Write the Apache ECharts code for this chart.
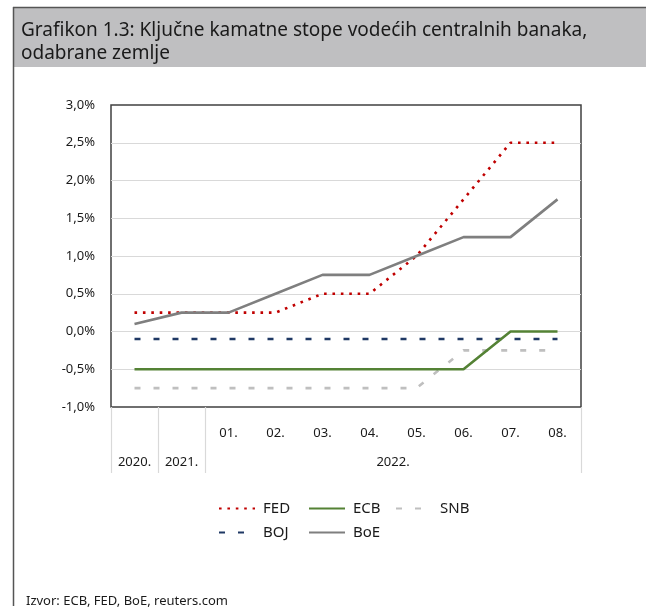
<!DOCTYPE html>
<html>
<head>
<meta charset="utf-8">
<script src="https://cdn.jsdelivr.net/npm/echarts@6/dist/echarts.min.js"></script>
<style>
  html, body { margin: 0; padding: 0; background: #fff; }
  #chart { width: 646px; height: 610px; }
</style>
</head>
<body>
<div id="chart"></div>
<script>
// categories
var months = ['', '', '01.', '02.', '03.', '04.', '05.', '06.', '07.', '08.'];
var yearLabels = { 0.5: '2020.', 1.5: '2021.', 6: '2022.' };

// key policy rates, %
var fed = [0.25, 0.25, 0.25, 0.25, 0.5, 0.5, 1.0, 1.75, 2.5, 2.5];
var ecb = [-0.5, -0.5, -0.5, -0.5, -0.5, -0.5, -0.5, -0.5, 0, 0];
var snb = [-0.75, -0.75, -0.75, -0.75, -0.75, -0.75, -0.75, -0.25, -0.25, -0.25];
var boj = [-0.1, -0.1, -0.1, -0.1, -0.1, -0.1, -0.1, -0.1, -0.1, -0.1];
var boe = [0.1, 0.25, 0.25, 0.5, 0.75, 0.75, 1.0, 1.25, 1.25, 1.75];

var font = 'Noto Sans';

var chart = echarts.init(document.getElementById('chart'));

function legendAt(name, left, top) {
    return {
        data: [name], left: left, top: top,
        itemWidth: 36, itemHeight: 14, padding: 0,
        itemStyle: { opacity: 0 },
        textStyle: { fontFamily: font, fontSize: 15, color: '#1a1a1a', padding: [0, 0, 0, 3] }
    };
}

function line(name, data, color, type) {
    return {
        name: name, type: 'line', data: data, symbol: 'none',
        lineStyle: { color: color, width: 2.6, type: type },
        itemStyle: { color: color },
        emphasis: { disabled: true }
    };
}

var option = {
    animation: false,
    title: {
        text: 'Grafikon 1.3: Ključne kamatne stope vodećih centralnih banaka,\nodabrane zemlje',
        left: 21, top: 19, padding: 0,
        textStyle: { fontFamily: font, fontSize: 19, lineHeight: 23, fontWeight: 'normal', color: '#1a1a1a' }
    },
    graphic: [
        { type: 'rect', shape: { x: 13, y: 7, width: 640, height: 60 }, style: { fill: '#bfbfc1' }, z: -10 },
        { type: 'line', shape: { x1: 13, y1: 7.5, x2: 646, y2: 7.5 }, style: { stroke: '#555', lineWidth: 1.5 } },
        { type: 'line', shape: { x1: 13.5, y1: 7, x2: 13.5, y2: 606 }, style: { stroke: '#555', lineWidth: 1.5 } },
        {
            type: 'text', left: 26, top: 595,
            style: { text: 'Izvor: ECB, FED, BoE, reuters.com', fontFamily: font, fontSize: 13, fill: '#1a1a1a' }
        }
    ],
    legend: [
        legendAt('FED', 218, 501),
        legendAt('ECB', 308, 501),
        legendAt('SNB', 395, 501),
        legendAt('BOJ', 218, 525),
        legendAt('BoE', 308, 525)
    ],
    grid: {
        left: 111, right: 65, top: 105, bottom: 203,
        show: true, borderColor: '#404040', borderWidth: 1.5, backgroundColor: 'transparent'
    },
    xAxis: [
        {
            type: 'category', data: months, position: 'bottom', boundaryGap: true,
            axisLine: { show: false }, axisTick: { show: false }, splitLine: { show: false },
            axisLabel: { interval: 0, margin: 20, fontFamily: font, fontSize: 13, color: '#1a1a1a' }
        },
        {
            type: 'value', min: 0, max: 10, position: 'bottom',
            axisLine: { show: false }, splitLine: { show: false },
            axisTick: { show: true, customValues: [0, 1, 2, 10], length: 66, lineStyle: { color: '#d9d9d9', width: 1.2 } },
            axisLabel: {
                customValues: [0.5, 1.5, 6], margin: 49,
                fontFamily: font, fontSize: 13, color: '#1a1a1a',
                formatter: function (v) { return yearLabels[v] || ''; }
            }
        }
    ],
    yAxis: {
        type: 'value', min: -1, max: 3, interval: 0.5,
        axisLine: { show: false }, axisTick: { show: false },
        splitLine: { show: true, showMinLine: false, showMaxLine: false, lineStyle: { color: '#d9d9d9', width: 1.2 } },
        axisLabel: {
            margin: 16, fontFamily: font, fontSize: 13, color: '#1a1a1a',
            formatter: function (v) { return v.toFixed(1).replace('.', ',') + '%'; }
        }
    },
    series: [
        line('SNB', snb, '#bfbfbf', [6, 13]),
        line('BOJ', boj, '#1f3864', [6, 13]),
        line('ECB', ecb, '#548235', 'solid'),
        line('FED', fed, '#c00000', [2.6, 5.8]),
        line('BoE', boe, '#7f7f7f', 'solid')
    ]
};

chart.setOption(option);
</script>
</body>
</html>
